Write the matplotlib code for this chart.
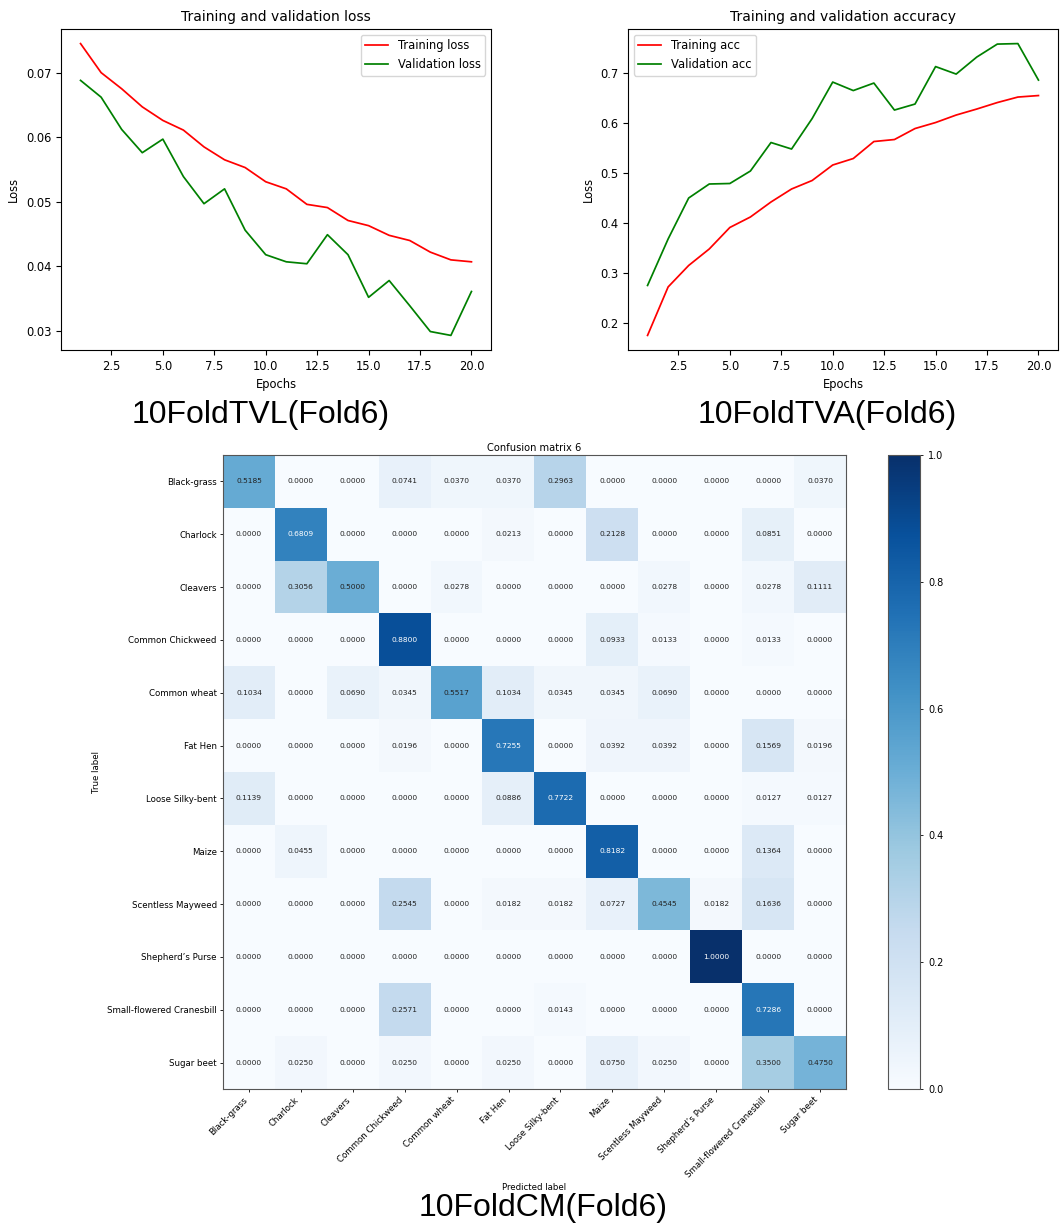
import numpy as np
import matplotlib.pyplot as plt

epochs = list(range(1, 21))
train_loss = [0.0745, 0.0700, 0.0675, 0.0647, 0.0626, 0.0611, 0.0585, 0.0565, 0.0553, 0.0531,
              0.0520, 0.0496, 0.0491, 0.0471, 0.0463, 0.0448, 0.0440, 0.0422, 0.0410, 0.0407]
val_loss = [0.0688, 0.0662, 0.0612, 0.0576, 0.0597, 0.0539, 0.0497, 0.0520, 0.0456, 0.0418,
            0.0407, 0.0404, 0.0449, 0.0418, 0.0352, 0.0378, 0.0339, 0.0299, 0.0293, 0.0361]
train_acc = [0.175, 0.272, 0.315, 0.348, 0.391, 0.412, 0.442, 0.468, 0.485, 0.516,
             0.529, 0.563, 0.567, 0.589, 0.601, 0.616, 0.628, 0.641, 0.652, 0.655]
val_acc = [0.275, 0.368, 0.450, 0.478, 0.479, 0.504, 0.561, 0.548, 0.609, 0.682,
           0.665, 0.680, 0.626, 0.638, 0.713, 0.698, 0.732, 0.758, 0.759, 0.686]

classes = ['Black-grass', 'Charlock', 'Cleavers', 'Common Chickweed', 'Common wheat',
           'Fat Hen', 'Loose Silky-bent', 'Maize', 'Scentless Mayweed', "Shepherd’s Purse",
           'Small-flowered Cranesbill', 'Sugar beet']
cm = np.array([
    [0.5185, 0, 0, 0.0741, 0.0370, 0.0370, 0.2963, 0, 0, 0, 0, 0.0370],
    [0, 0.6809, 0, 0, 0, 0.0213, 0, 0.2128, 0, 0, 0.0851, 0],
    [0, 0.3056, 0.5000, 0, 0.0278, 0, 0, 0, 0.0278, 0, 0.0278, 0.1111],
    [0, 0, 0, 0.8800, 0, 0, 0, 0.0933, 0.0133, 0, 0.0133, 0],
    [0.1034, 0, 0.0690, 0.0345, 0.5517, 0.1034, 0.0345, 0.0345, 0.0690, 0, 0, 0],
    [0, 0, 0, 0.0196, 0, 0.7255, 0, 0.0392, 0.0392, 0, 0.1569, 0.0196],
    [0.1139, 0, 0, 0, 0, 0.0886, 0.7722, 0, 0, 0, 0.0127, 0.0127],
    [0, 0.0455, 0, 0, 0, 0, 0, 0.8182, 0, 0, 0.1364, 0],
    [0, 0, 0, 0.2545, 0, 0.0182, 0.0182, 0.0727, 0.4545, 0.0182, 0.1636, 0],
    [0, 0, 0, 0, 0, 0, 0, 0, 0, 1.0000, 0, 0],
    [0, 0, 0, 0.2571, 0, 0, 0.0143, 0, 0, 0, 0.7286, 0],
    [0, 0.0250, 0, 0.0250, 0, 0.0250, 0, 0.0750, 0.0250, 0, 0.3500, 0.4750],
])

W, H = 1060, 1229
fig = plt.figure(figsize=(W / 100, H / 100), dpi=100)


def box(x0, y0, x1, y1):
    # pixel box (top-left origin) -> figure fraction rect
    return [x0 / W, 1 - y1 / H, (x1 - x0) / W, (y1 - y0) / H]


fs = 8.3

# training / validation loss
ax1 = fig.add_axes(box(61, 29, 491, 350))
ax1.plot(epochs, train_loss, color='red', lw=1.25, label='Training loss')
ax1.plot(epochs, val_loss, color='green', lw=1.25, label='Validation loss')
ax1.set_title('Training and validation loss', fontsize=10)
ax1.set_xlabel('Epochs', fontsize=fs)
ax1.set_ylabel('Loss', fontsize=fs)
ax1.tick_params(labelsize=fs)
ax1.legend(fontsize=fs, loc='upper right')

# training / validation accuracy
ax2 = fig.add_axes(box(628, 29, 1058, 350))
ax2.plot(epochs, train_acc, color='red', lw=1.25, label='Training acc')
ax2.plot(epochs, val_acc, color='green', lw=1.25, label='Validation acc')
ax2.set_title('Training and validation accuracy', fontsize=10)
ax2.set_xlabel('Epochs', fontsize=fs)
ax2.set_ylabel('Loss', fontsize=fs)
ax2.tick_params(labelsize=fs)
ax2.legend(fontsize=fs, loc='upper left')

# confusion matrix
ax3 = fig.add_axes(box(223, 455, 846, 1089))
im = ax3.imshow(cm, cmap='Blues', vmin=0, vmax=1, interpolation='nearest', aspect='auto')
ax3.set_title('Confusion matrix 6', fontsize=7.1, pad=3)
ticks = np.arange(len(classes))
ax3.set_xticks(ticks)
ax3.set_xticklabels(classes, rotation=45, ha='right', fontsize=6.2)
ax3.set_yticks(ticks)
ax3.set_yticklabels(classes, fontsize=6.2)
ax3.tick_params(length=2.5, width=0.6, pad=2)
for s in ax3.spines.values():
    s.set_color('#555555')
thresh = cm.max() / 1.5
for i in range(cm.shape[0]):
    for j in range(cm.shape[1]):
        ax3.text(j, i, format(cm[i, j], '.4f'), ha='center', va='center', fontsize=5.4,
                 color='white' if cm[i, j] > thresh else '#222222')
ax3.set_ylabel('True label', fontsize=6.2)
ax3.set_xlabel('Predicted label', fontsize=6.2, labelpad=3)

cax = fig.add_axes(box(888, 455, 920, 1089))
cb = fig.colorbar(im, cax=cax)
cb.set_ticks([0.0, 0.2, 0.4, 0.6, 0.8, 1.0])
cb.ax.tick_params(labelsize=7, length=2.5, width=0.6)
cb.outline.set_edgecolor('#555555')

# captions
cap = dict(family='Liberation Sans', fontsize=23, ha='center', va='center')
fig.text(261 / W, 1 - 415 / H, '10FoldTVL(Fold6)', **cap)
fig.text(827 / W, 1 - 415 / H, '10FoldTVA(Fold6)', **cap)
fig.text(543 / W, 1 - 1208 / H, '10FoldCM(Fold6)',
         bbox=dict(facecolor='white', edgecolor='none', pad=1), **cap)

fig.savefig('out.png', dpi=100)
